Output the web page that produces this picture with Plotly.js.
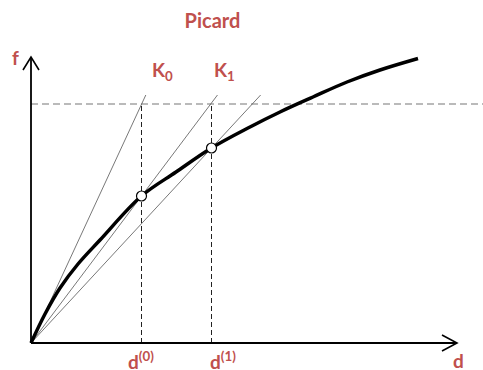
<!DOCTYPE html>
<html>
<head>
<meta charset="utf-8">
<script src="https://cdn.plot.ly/plotly-3.0.1.min.js"></script>
<style>html,body{margin:0;padding:0;background:#fff;}</style>
</head>
<body>
<div id="chart" style="width:483px;height:370px;"></div>
<script>
// Load curve f(d)
const curveD = [0, 1.4, 2.9, 4.7, 6.9, 11.05, 14.5, 18.05, 21.9, 24.9, 28.2, 31.6, 34.9, 38.7];
const curveF = [0, 2.9, 5.5, 7.9, 10.3, 14.7, 17.1, 19.5, 21.6, 23.1, 24.6, 26.1, 27.3, 28.45];
// Iterates
const iterD = [11.05, 18.05];
const iterF = [14.7, 19.5];
const iterLabels = ['d<sup>(0)</sup>', 'd<sup>(1)</sup>'];
// External load level
const fExt = 23.9;
// Stiffness line slopes (K0, K1, K2) and their top level
const kSlopes = [2.16, 1.33, 1.08];
const kNames = ['K<sub>0</sub>', 'K<sub>1</sub>'];
const kLineTop = 24.8;
// Axis extents
const xRange = [-3.1, 45.2], yRange = [-2.7, 34.3];
const xAxisTip = 42.6, yAxisTip = 28.6;

const red = '#c0504d';
const lblFont = {family: 'Lato, "Open Sans", sans-serif', size: 19, color: red, weight: 'bold'};

const traces = [];
kSlopes.forEach((k) => {
  traces.push({
    x: [0, kLineTop / k], y: [0, kLineTop],
    mode: 'lines', line: {color: '#555', width: 0.8},
    hoverinfo: 'skip', showlegend: false
  });
});
traces.push({
  x: curveD, y: curveF, mode: 'lines',
  line: {color: '#000', width: 3.5, shape: 'spline', smoothing: 1.0},
  hoverinfo: 'skip', showlegend: false
});
traces.push({
  x: iterD, y: iterF, mode: 'markers',
  marker: {size: 10, color: '#fff', line: {color: '#000', width: 1.2}},
  hoverinfo: 'skip', showlegend: false
});

const shapes = [];
// horizontal dashed external load
shapes.push({type: 'line', xref: 'x', yref: 'y', x0: 0, x1: xRange[1], y0: fExt, y1: fExt,
  line: {color: '#777', width: 1.2, dash: '7px,4px'}, layer: 'below'});
iterD.forEach((d) => {
  shapes.push({type: 'line', xref: 'x', yref: 'y', x0: d, x1: d, y0: 0, y1: fExt,
    line: {color: '#222', width: 1, dash: '5px,3px'}, layer: 'below'});
});
// axes
shapes.push({type: 'line', xref: 'x', yref: 'y', x0: 0, x1: xAxisTip, y0: 0, y1: 0, line: {color: '#000', width: 1.8}});
shapes.push({type: 'line', xref: 'x', yref: 'y', x0: 0, x1: 0, y0: 0, y1: yAxisTip, line: {color: '#000', width: 1.8}});
// arrow chevrons (pixel-sized)
shapes.push({type: 'path', xref: 'x', yref: 'y', xsizemode: 'pixel', ysizemode: 'pixel',
  xanchor: 0, yanchor: yAxisTip, path: 'M -8 -13 L 0 0 L 8 -13', line: {color: '#000', width: 1.6}});
shapes.push({type: 'path', xref: 'x', yref: 'y', xsizemode: 'pixel', ysizemode: 'pixel',
  xanchor: xAxisTip, yanchor: 0, path: 'M -15 8 L 0 0 L -15 -8', line: {color: '#000', width: 1.6}});

const annotations = [];
annotations.push({xref: 'x', yref: 'y', x: 0, y: yAxisTip, xshift: -16, yshift: 0, text: 'f',
  showarrow: false, font: lblFont, xanchor: 'center', yanchor: 'middle'});
annotations.push({xref: 'x', yref: 'y', x: xAxisTip, y: 0, xshift: 1, yshift: -17, text: 'd',
  showarrow: false, font: lblFont, xanchor: 'center', yanchor: 'middle'});
const kLabelX = [13.1, 19.3];
kNames.forEach((n, i) => {
  annotations.push({xref: 'x', yref: 'y', x: kLabelX[i], y: 27.2, text: n,
    showarrow: false, font: lblFont, xanchor: 'center', yanchor: 'middle'});
});
const dShift = [-1, 11];
iterD.forEach((d, i) => {
  annotations.push({xref: 'x', yref: 'y', x: d, y: 0, xshift: dShift[i], yshift: -17, text: iterLabels[i],
    showarrow: false, font: lblFont, xanchor: 'center', yanchor: 'middle'});
});

const axisCommon = {showgrid: false, zeroline: false, showticklabels: false, showline: false, ticks: '', fixedrange: true};
const layout = {
  width: 483, height: 370,
  margin: {l: 0, r: 0, t: 0, b: 0, pad: 0},
  paper_bgcolor: '#fff', plot_bgcolor: '#fff',
  title: {text: '<b>Picard</b>', x: 212.5 / 483, xanchor: 'center', y: 1 - 21 / 370, yanchor: 'middle',
    font: {family: 'Lato, "Open Sans", sans-serif', size: 20, color: red}},
  xaxis: Object.assign({range: xRange}, axisCommon),
  yaxis: Object.assign({range: yRange}, axisCommon),
  shapes: shapes, annotations: annotations, showlegend: false
};
Plotly.newPlot('chart', traces, layout, {displayModeBar: false, staticPlot: true});
</script>
</body>
</html>
